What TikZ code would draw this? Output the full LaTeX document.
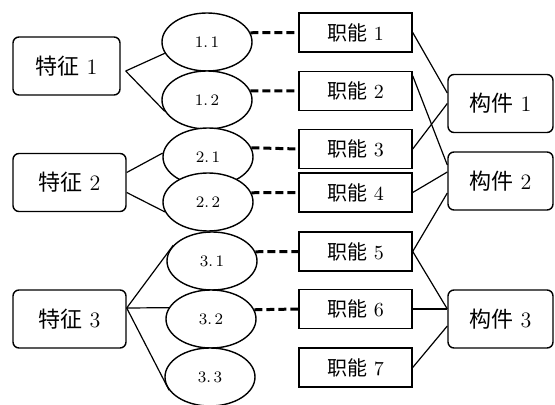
\documentclass[tikz,border=0pt]{standalone}
\usepackage{fontspec}
\newfontfamily\cjk{Noto Sans CJK SC}
\newcommand{\zh}[1]{{\cjk #1}}
\usetikzlibrary{shapes.geometric}
\tikzset{
  feat/.style={draw,rounded corners=3pt,line width=0.7pt,minimum width=56.5pt,minimum height=29pt,font=\fontsize{11}{13}\selectfont},
  part/.style={feat,minimum width=52.5pt},
  func/.style={draw,line width=0.7pt,minimum width=56.5pt,minimum height=19.5pt,font=\fontsize{10}{12}\selectfont},
  sub/.style={draw,ellipse,fill=white,line width=0.7pt,minimum width=45pt,minimum height=29pt,inner sep=0pt,font=\fontsize{8}{9}\selectfont},
  link/.style={line width=0.6pt},
  trace/.style={line width=1.5pt,dash pattern=on 4pt off 2pt}
}
\begin{document}
\begin{tikzpicture}[x=0.5pt,y=-0.5pt]
      \useasboundingbox (0,0) rectangle (555,405);
      \draw
        (66.5,66) node[feat,minimum width=53.5pt] (t1){\zh{特征} 1}
        (69.5,182.5) node[feat] (t2){\zh{特征} 2}
        (69.5,319) node[feat] (t3){\zh{特征} 3};
      \draw
        (207,42) node[sub] (e11){1.\,1}
        (207,100) node[sub] (e12){1.\,2}
        (208,157) node[sub] (e21){2.\,1}
        (208,202) node[sub] (e22){2.\,2}
        (212,261) node[sub] (e31){3.\,1}
        (211,319) node[sub] (e32){3.\,2}
        (210,377) node[sub] (e33){3.\,3};
      \draw
        (355.5,32.5) node[func] (f1){\zh{职能} 1}
        (355.5,91) node[func] (f2){\zh{职能} 2}
        (355.5,149) node[func] (f3){\zh{职能} 3}
        (355.5,192.5) node[func] (f4){\zh{职能} 4}
        (355.5,251.5) node[func] (f5){\zh{职能} 5}
        (355.5,309) node[func] (f6){\zh{职能} 6}
        (355.5,367.5) node[func] (f7){\zh{职能} 7};
      \draw
        (500.5,103.5) node[part] (c1){\zh{构件} 1}
        (500.5,181) node[part] (c2){\zh{构件} 2}
        (500.5,319) node[part] (c3){\zh{构件} 3};
      \coordinate (j1) at ([xshift=2.5pt,yshift=-2.5pt]t1.east);
      \coordinate (j3) at ([yshift=5.5pt]t3.east);
      \begin{scope}[link]
        \draw (j1) -- (e11.195);
        \draw (j1) -- (e12.195);
        \draw ([yshift=5pt]t2.east) -- (e21.175);
        \draw ([yshift=-5pt]t2.east) -- (e22.193);
        \draw (j3) -- (e31.158);
        \draw (j3) -- (e32.165);
        \draw (j3) -- (e33.198);
      \end{scope}
      \begin{scope}[trace]
        \draw (e11.12) -- (f1.west);
        \draw (e12.12) -- (f2.west);
        \draw (e21.12) -- (f3.west);
        \draw (e22.12) -- (f4.west);
        \draw (e31.12) -- (f5.west);
        \draw (e32.12) -- (f6.west);
      \end{scope}
      \begin{scope}[link]
        \draw (f1.east) -- ([yshift=5.25pt]c1.west);
        \draw ([yshift=-2.5pt]f2.north east) -- ([yshift=8pt]c2.west);
        \draw (f3.east) -- (c1.west);
        \draw (f4.east) -- ([yshift=4.5pt]c2.west);
        \draw (f5.east) -- ([yshift=-6pt]c2.west);
        \draw (f5.east) -- ([yshift=5pt]c3.west);
        \draw (f6.east) -- ([yshift=5pt]c3.west);
        \draw (f7.east) -- ([yshift=-3.5pt]c3.west);
      \end{scope}
    \end{tikzpicture}
\end{document}
